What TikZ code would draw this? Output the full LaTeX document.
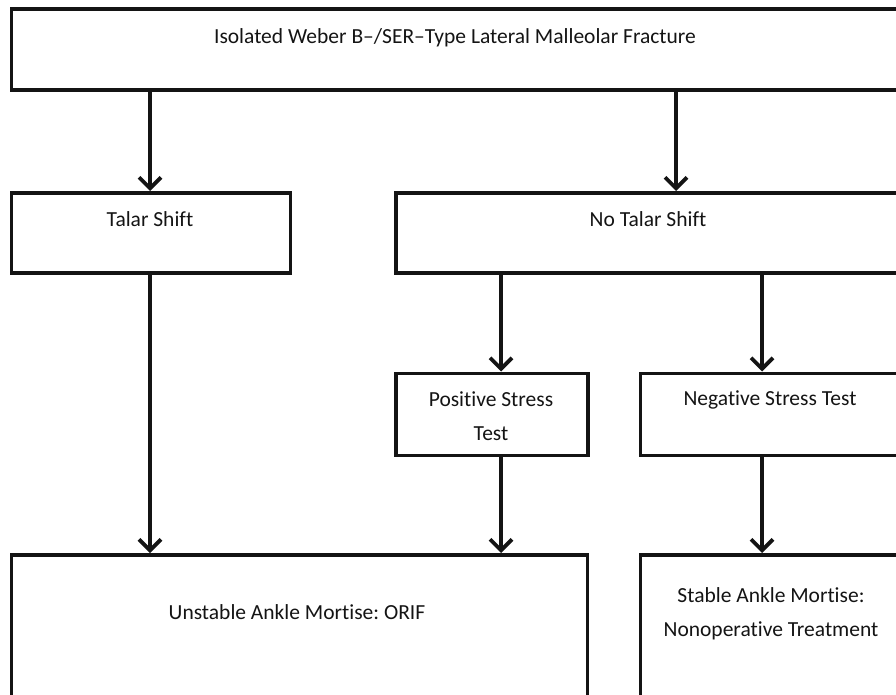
\documentclass[tikz,border=0pt]{standalone}
\usepackage{fontspec}
\setmainfont[Ligatures=CommonOff]{Carlito}
\usetikzlibrary{arrows.meta}
\frenchspacing
\begin{document}
\begin{tikzpicture}[x=1pt,y=-1pt,
  box/.style={draw=black!92,line width=3.8pt,rectangle,inner sep=0pt},
  lbl/.style={font=\fontsize{21.5}{34.5}\selectfont,align=center,text=black!92,inner sep=0pt},
  arr/.style={draw=black!92,line width=3.8pt,-{Straight Barb[length=11pt,width=22pt,line width=3.8pt]}}]
\useasboundingbox (0,0) rectangle (896,695);
\clip (0,0) rectangle (896,695);
\fill[white] (0,0) rectangle (896,695);
% boxes
\node[box,minimum width=902pt,minimum height=81pt,anchor=north west] (top) at (9.5,7.5) {};
\node[box,minimum width=279pt,minimum height=80pt,anchor=north west] (ts) at (9.5,191) {};
\node[box,minimum width=520pt,minimum height=80pt,anchor=north west] (nts) at (394,191) {};
\node[box,minimum width=192pt,minimum height=82pt,anchor=north west] (pos) at (394,371.5) {};
\node[box,minimum width=270pt,minimum height=82pt,anchor=north west] (neg) at (638.5,371.5) {};
\node[box,minimum width=576pt,minimum height=160pt,anchor=north west] (uns) at (9.5,553) {};
\node[box,minimum width=270pt,minimum height=160pt,anchor=north west] (sta) at (638.5,553) {};
% labels
\node[lbl] (ttop) at (455,38) {Isolated Weber B--/SER--Type Lateral Malleolar Fracture};
\node[lbl] (tts) at (150,219) {Talar Shift};
\node[lbl] (tnts) at (648,219) {No Talar Shift};
\node[lbl] (tpos) at (491,416) {Positive Stress\\Test};
\node[lbl] (tneg) at (770,400) {Negative Stress Test};
\node[lbl] (tuns) at (297,612) {Unstable Ankle Mortise: ORIF};
\node[lbl] (tsta) at (771,614) {Stable Ankle Mortise:\\Nonoperative Treatment};
% coordinates for connectors
\coordinate (a1) at (150,0);
\coordinate (a2) at (676,0);
\coordinate (a3) at (501,0);
\coordinate (a4) at (762,0);
% connectors
\draw[arr] (top.south -| a1) -- (ts.north -| a1);
\draw[arr] (top.south -| a2) -- (nts.north -| a2);
\draw[arr] (nts.south -| a3) -- (pos.north -| a3);
\draw[arr] (nts.south -| a4) -- (neg.north -| a4);
\draw[arr] (ts.south -| a1) -- (uns.north -| a1);
\draw[arr] (pos.south -| a3) -- (uns.north -| a3);
\draw[arr] (neg.south -| a4) -- (sta.north -| a4);
\end{tikzpicture}
\end{document}
